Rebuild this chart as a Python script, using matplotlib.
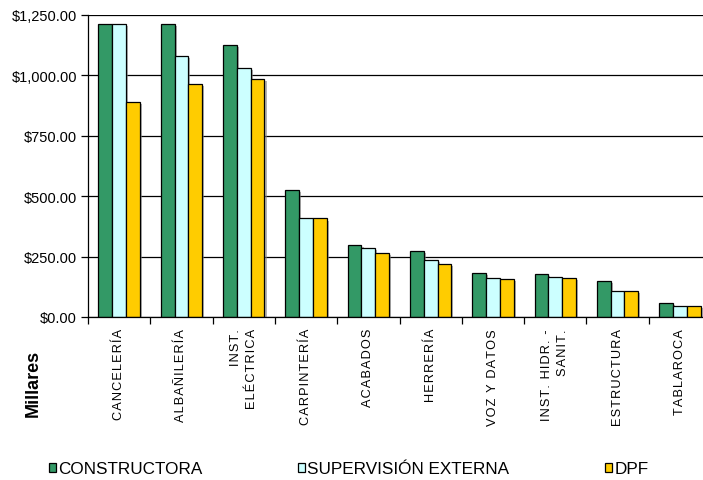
import matplotlib
matplotlib.use("Agg")
import matplotlib.pyplot as plt
import matplotlib.patheffects as pe
from matplotlib.ticker import FuncFormatter, FixedLocator
from matplotlib.patches import Patch
import numpy as np

plt.rcParams["font.family"] = ["Liberation Sans", "DejaVu Sans"]

# Cost per work item, in thousands of pesos
categories = ["CANCELERÍA", "ALBAÑILERÍA", "INST.\nELÉCTRICA", "CARPINTERÍA",
              "ACABADOS", "HERRERÍA", "VOZ Y DATOS", "INST. HIDR. -\nSANIT.",
              "ESTRUCTURA", "TABLAROCA"]
constructora = [1213, 1213, 1127, 524, 299, 272, 182, 177, 150, 57]
supervision = [1213, 1079, 1032, 408, 287, 235, 161, 167, 109, 46]
dpf = [889, 963, 985, 408, 266, 219, 156, 161, 109, 46]

series_names = ["CONSTRUCTORA", "SUPERVISIÓN EXTERNA", "DPF"]
series_colors = ["#339966", "#CCFFFF", "#FFCC00"]
y_ticks = [0, 250, 500, 750, 1000, 1250]


def tracked(label):
    # widen letter spacing of the rotated category labels with hair spaces
    return "\n".join("\u200a".join(line) for line in label.split("\n"))


fig = plt.figure(figsize=(7.03, 4.81), dpi=100)
ax = fig.add_axes([88 / 703, 1 - 318 / 481, 623 / 703, 302 / 481])

x = np.arange(len(categories))
width = 0.222
shadow = [pe.withSimplePatchShadow(offset=(1.5, -1.5), shadow_rgbFace="#808080", alpha=0.6)]
for k, (vals, color) in enumerate(zip([constructora, supervision, dpf], series_colors)):
    ax.bar(x + (k - 1) * width, vals, width, color=color, edgecolor="black",
           linewidth=0.9, zorder=3, path_effects=shadow)

ax.set_xlim(-0.5, len(categories) - 0.5)
ax.set_ylim(0, 1250)

ax.yaxis.set_major_locator(FixedLocator(y_ticks))
ax.yaxis.set_major_formatter(FuncFormatter(lambda v, p: f"${v:,.2f}"))
ax.grid(axis="y", color="black", linewidth=0.9, zorder=1)
ax.tick_params(axis="y", direction="out", length=5, width=0.9, pad=3,
               labelsize=10.5, colors="black")

ax.set_xticks(x)
ax.set_xticklabels([tracked(c) for c in categories], rotation=90, fontsize=9.2,
                   va="top", ha="center", multialignment="right", linespacing=1.4)
ax.tick_params(axis="x", which="major", length=0, pad=8)
ax.set_xticks(np.arange(len(categories) + 1) - 0.5, minor=True)
ax.tick_params(axis="x", which="minor", direction="out", length=5, width=0.9)

for side in ["top", "right"]:
    ax.spines[side].set_visible(False)
for side in ["left", "bottom"]:
    ax.spines[side].set_linewidth(0.9)
    ax.spines[side].set_zorder(4)

fig.text(33 / 703, 1 - 383 / 481, "Millares", rotation=90, fontsize=13,
         fontweight="bold", ha="center", va="center")

handles = [Patch(facecolor=c, edgecolor="black", linewidth=0.9) for c in series_colors]
fig.legend(handles, series_names, ncol=3, loc="center left",
           bbox_to_anchor=(49 / 703, 1 - 470 / 481), frameon=False,
           fontsize=12.3, handlelength=0.42, handleheight=0.45,
           handletextpad=0.12, columnspacing=5.6, borderpad=0, borderaxespad=0)

fig.savefig("out.png", dpi=100)
